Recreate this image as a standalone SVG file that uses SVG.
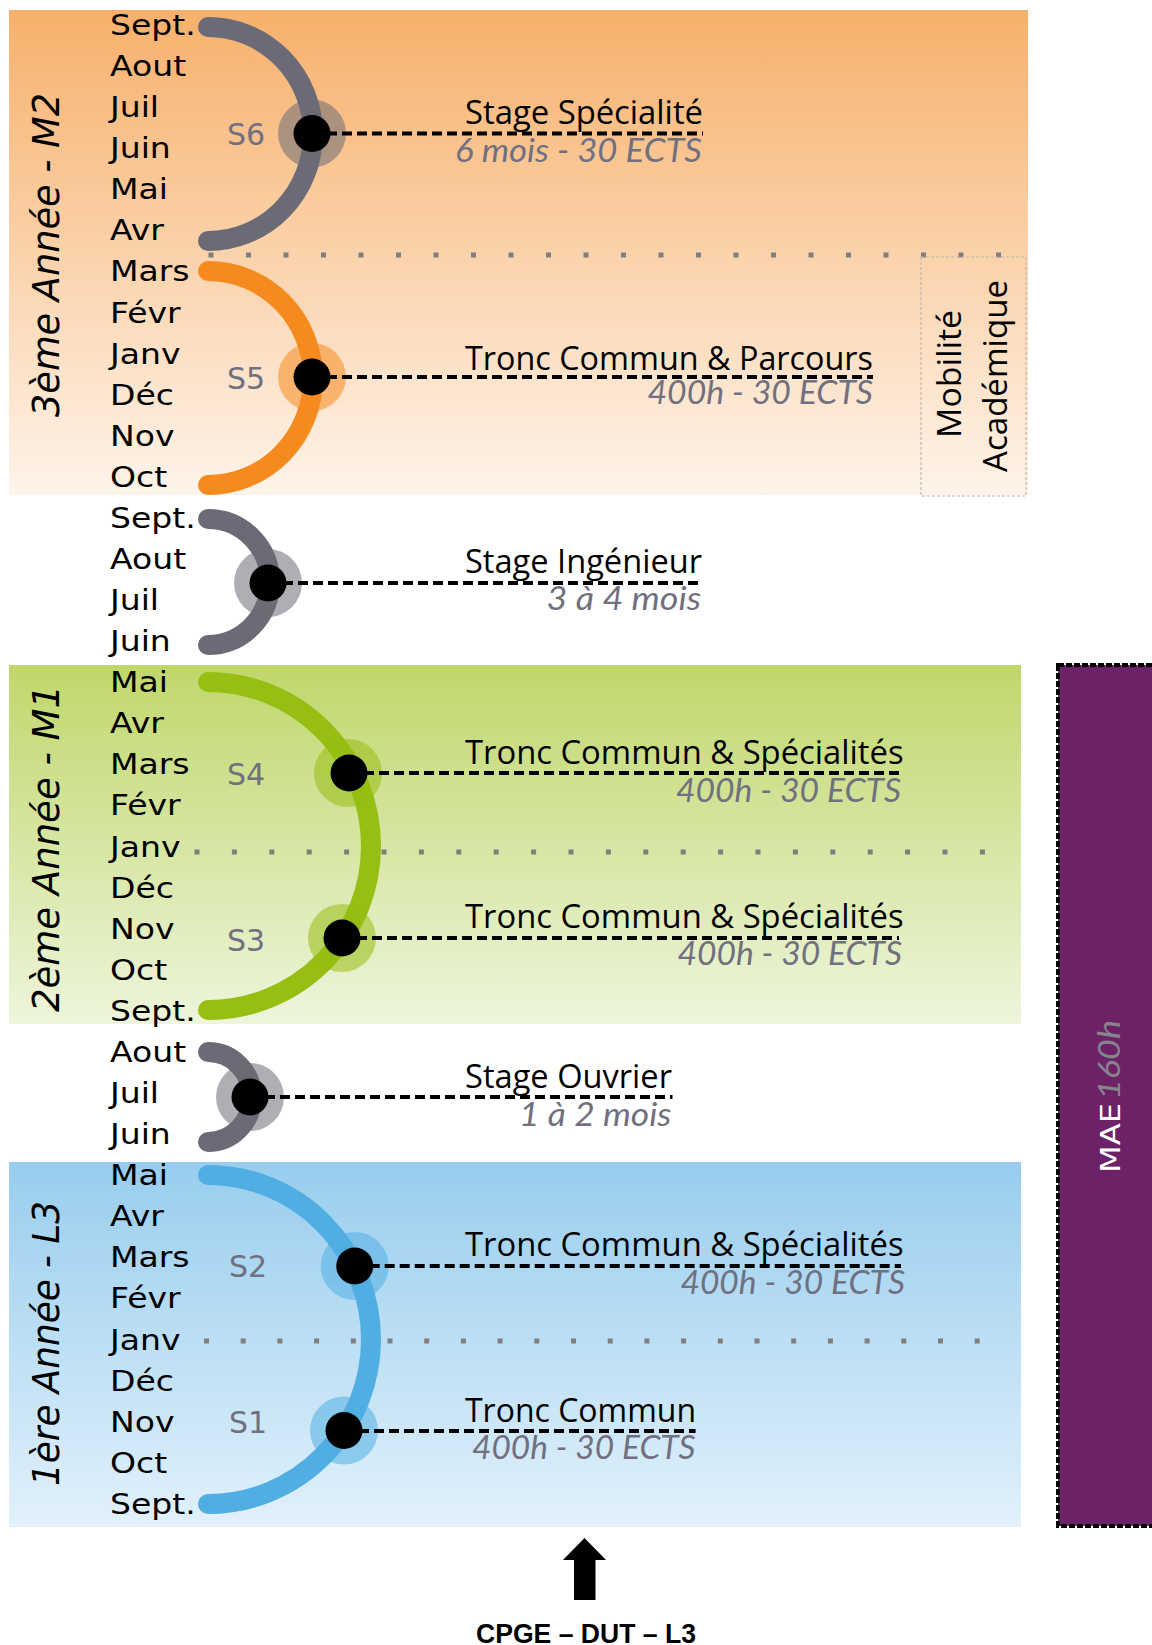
<svg xmlns="http://www.w3.org/2000/svg" width="1152" height="1645" viewBox="0 0 1152 1645">
<defs>
<linearGradient id="gO" x1="0" y1="0" x2="0" y2="1"><stop offset="0" stop-color="#F7B06B"/><stop offset="1" stop-color="#FEF4EA"/></linearGradient>
<linearGradient id="gG" x1="0" y1="0" x2="0" y2="1"><stop offset="0" stop-color="#C0D76B"/><stop offset="1" stop-color="#EEF5DC"/></linearGradient>
<linearGradient id="gB" x1="0" y1="0" x2="0" y2="1"><stop offset="0" stop-color="#98CDEE"/><stop offset="1" stop-color="#E2F1FB"/></linearGradient>
<style>
.m{font-family:"DejaVu Sans",sans-serif;font-size:29px;fill:#000}
.yr{font-family:"DejaVu Sans",sans-serif;font-style:oblique;font-size:37px;fill:#000;text-anchor:middle}
.sl{font-family:"DejaVu Sans",sans-serif;font-size:30px;fill:#6F7080}
.t{font-family:"Open Sans",sans-serif;font-size:32px;fill:#000}
.st{font-family:Lato,sans-serif;font-style:italic;font-size:32px;fill:#707080;text-anchor:end}
.arc{fill:none;stroke-width:20;stroke-linecap:round}
.gray{stroke:#6B6B77}
.halo{opacity:.55}
.dot{fill:#000}
.conn{stroke:#000;stroke-width:4;stroke-dasharray:10 5;fill:none}
.sep{stroke:#7F7F7F;stroke-width:5;fill:none}
.mob{font-family:"Open Sans",sans-serif;font-size:33px;fill:#000;text-anchor:middle}
</style>
</defs>

<g id="bands">
<rect x="9" y="10" width="1019" height="485" fill="url(#gO)"/>
<rect x="9" y="665" width="1012" height="359" fill="url(#gG)"/>
<rect x="9" y="1162" width="1012" height="365" fill="url(#gB)"/>
</g>

<g id="separators">
<line class="sep" x1="208.5" y1="255" x2="1001" y2="255" stroke-dasharray="5 32.5"/>
<line class="sep" x1="194.5" y1="852" x2="985" y2="852" stroke-dasharray="5 32.4"/>
<line class="sep" x1="204" y1="1341" x2="980" y2="1341" stroke-dasharray="5 31.7"/>
</g>

<g id="mobilite">
<rect x="921" y="257" width="105" height="239" fill="none" stroke="#C4B6A8" stroke-width="1.2" stroke-dasharray="3 2"/>
<text class="mob" transform="translate(961,374) rotate(-90)" textLength="128" lengthAdjust="spacingAndGlyphs">Mobilité</text>
<text class="mob" transform="translate(1007,376) rotate(-90)" textLength="192" lengthAdjust="spacingAndGlyphs">Académique</text>
</g>

<g id="mae">
<rect x="1058" y="665" width="110" height="861" fill="#6D2268" stroke="#000" stroke-width="4" stroke-dasharray="6 2"/>
<text transform="translate(1120,1173) rotate(-90)" font-family="DejaVu Sans, sans-serif" font-size="27" fill="#fff" textLength="70" lengthAdjust="spacingAndGlyphs">MAE</text>
<text transform="translate(1120,1100) rotate(-90)" font-family="Lato, sans-serif" font-style="italic" font-size="31" fill="#85858C" textLength="80" lengthAdjust="spacingAndGlyphs">160h</text>
</g>

<g id="years">
<text class="yr" transform="translate(59,255) rotate(-90)" textLength="324" lengthAdjust="spacingAndGlyphs">3ème Année - M2</text>
<text class="yr" transform="translate(59,848.5) rotate(-90)" textLength="327" lengthAdjust="spacingAndGlyphs">2ème Année - M1</text>
<text class="yr" transform="translate(59,1343.5) rotate(-90)" textLength="285" lengthAdjust="spacingAndGlyphs">1ère Année - L3</text>
</g>

<g id="months" transform="translate(110,0) scale(1.14,1)">
<text class="m" x="0" y="35">Sept.</text>
<text class="m" x="0" y="76.1">Aout</text>
<text class="m" x="0" y="117.2">Juil</text>
<text class="m" x="0" y="158.2">Juin</text>
<text class="m" x="0" y="199.3">Mai</text>
<text class="m" x="0" y="240.4">Avr</text>
<text class="m" x="0" y="281.5">Mars</text>
<text class="m" x="0" y="322.6">Févr</text>
<text class="m" x="0" y="363.6">Janv</text>
<text class="m" x="0" y="404.7">Déc</text>
<text class="m" x="0" y="445.8">Nov</text>
<text class="m" x="0" y="486.9">Oct</text>
<text class="m" x="0" y="528">Sept.</text>
<text class="m" x="0" y="569">Aout</text>
<text class="m" x="0" y="610.1">Juil</text>
<text class="m" x="0" y="651.2">Juin</text>
<text class="m" x="0" y="692.3">Mai</text>
<text class="m" x="0" y="733.4">Avr</text>
<text class="m" x="0" y="774.4">Mars</text>
<text class="m" x="0" y="815.5">Févr</text>
<text class="m" x="0" y="856.6">Janv</text>
<text class="m" x="0" y="897.7">Déc</text>
<text class="m" x="0" y="938.8">Nov</text>
<text class="m" x="0" y="979.8">Oct</text>
<text class="m" x="0" y="1020.9">Sept.</text>
<text class="m" x="0" y="1062">Aout</text>
<text class="m" x="0" y="1103.1">Juil</text>
<text class="m" x="0" y="1144.2">Juin</text>
<text class="m" x="0" y="1185.2">Mai</text>
<text class="m" x="0" y="1226.3">Avr</text>
<text class="m" x="0" y="1267.4">Mars</text>
<text class="m" x="0" y="1308.5">Févr</text>
<text class="m" x="0" y="1349.6">Janv</text>
<text class="m" x="0" y="1390.6">Déc</text>
<text class="m" x="0" y="1431.7">Nov</text>
<text class="m" x="0" y="1472.8">Oct</text>
<text class="m" x="0" y="1513.9">Sept.</text>
</g>

<g id="arcs">
<path class="arc gray" d="M208 27 A105 107 0 0 1 208 241"/>
<path class="arc" stroke="#F58A1F" d="M208 271 A105 107 0 0 1 208 485"/>
<path class="arc gray" d="M208 519 A62 63 0 0 1 208 645"/>
<path class="arc" stroke="#96BE13" d="M208 682 A163 164 0 0 1 208 1010"/>
<path class="arc gray" d="M208 1052 A44 45 0 0 1 208 1142"/>
<path class="arc" stroke="#50AEE3" d="M208 1175 A163 164.5 0 0 1 208 1504"/>
</g>

<g id="halos">
<circle class="halo" cx="312" cy="133.5" r="34" fill="#6B6B77"/>
<circle class="halo" cx="312" cy="377" r="34" fill="#F58A1F"/>
<circle class="halo" cx="268" cy="583" r="34" fill="#6B6B77"/>
<circle class="halo" cx="348" cy="773" r="34" fill="#96BE13"/>
<circle class="halo" cx="342" cy="938" r="34" fill="#96BE13"/>
<circle class="halo" cx="250" cy="1097" r="34" fill="#6B6B77"/>
<circle class="halo" cx="354.7" cy="1266" r="34" fill="#50AEE3"/>
<circle class="halo" cx="344" cy="1430.5" r="34" fill="#50AEE3"/>
</g>

<g id="connectors">
<line class="conn" x1="312" y1="133.5" x2="703" y2="133.5"/>
<line class="conn" x1="312" y1="377" x2="873" y2="377"/>
<line class="conn" x1="268" y1="583" x2="702" y2="583"/>
<line class="conn" x1="349" y1="773" x2="903.5" y2="773"/>
<line class="conn" x1="342" y1="938" x2="899" y2="938"/>
<line class="conn" x1="250" y1="1097" x2="672.5" y2="1097"/>
<line class="conn" x1="354.7" y1="1266" x2="901" y2="1266"/>
<line class="conn" x1="344" y1="1431" x2="695.6" y2="1431"/>
</g>

<g id="s6">
<circle class="dot" cx="312" cy="133.5" r="18.5"/>
<text class="sl" x="227" y="145">S6</text>
<text class="t" x="465" y="123.5" textLength="238" lengthAdjust="spacingAndGlyphs">Stage Spécialité</text>
<text class="st" x="702" y="162" textLength="247" lengthAdjust="spacingAndGlyphs">6 mois - 30 ECTS</text>
</g>
<g id="s5">
<circle class="dot" cx="312" cy="377" r="18.5"/>
<text class="sl" x="227" y="389">S5</text>
<text class="t" x="465" y="370" textLength="408" lengthAdjust="spacingAndGlyphs">Tronc Commun &amp; Parcours</text>
<text class="st" x="873" y="404" textLength="225.5" lengthAdjust="spacingAndGlyphs">400h - 30 ECTS</text>
</g>
<g id="stage-ingenieur">
<circle class="dot" cx="268" cy="583" r="18.5"/>
<text class="t" x="465" y="573" textLength="237" lengthAdjust="spacingAndGlyphs">Stage Ingénieur</text>
<text class="st" x="701" y="610" textLength="154.5" lengthAdjust="spacingAndGlyphs">3 à 4 mois</text>
</g>
<g id="s4">
<circle class="dot" cx="349" cy="773" r="18.5"/>
<text class="sl" x="227" y="785">S4</text>
<text class="t" x="465" y="764" textLength="438.5" lengthAdjust="spacingAndGlyphs">Tronc Commun &amp; Spécialités</text>
<text class="st" x="901" y="802" textLength="225" lengthAdjust="spacingAndGlyphs">400h - 30 ECTS</text>
</g>
<g id="s3">
<circle class="dot" cx="342" cy="938" r="18.5"/>
<text class="sl" x="227" y="950.5">S3</text>
<text class="t" x="465" y="928" textLength="438.5" lengthAdjust="spacingAndGlyphs">Tronc Commun &amp; Spécialités</text>
<text class="st" x="902" y="965" textLength="224.5" lengthAdjust="spacingAndGlyphs">400h - 30 ECTS</text>
</g>
<g id="stage-ouvrier">
<circle class="dot" cx="250" cy="1097" r="18.5"/>
<text class="t" x="465" y="1088" textLength="207" lengthAdjust="spacingAndGlyphs">Stage Ouvrier</text>
<text class="st" x="671.5" y="1126" textLength="152.5" lengthAdjust="spacingAndGlyphs">1 à 2 mois</text>
</g>
<g id="s2">
<circle class="dot" cx="354.7" cy="1266" r="18.5"/>
<text class="sl" x="229" y="1277" font-size="28">S2</text>
<text class="t" x="465" y="1256" textLength="438.5" lengthAdjust="spacingAndGlyphs">Tronc Commun &amp; Spécialités</text>
<text class="st" x="905" y="1294" textLength="224.6" lengthAdjust="spacingAndGlyphs">400h - 30 ECTS</text>
</g>
<g id="s1">
<circle class="dot" cx="344" cy="1430.5" r="18.5"/>
<text class="sl" x="229" y="1432.5" font-size="28">S1</text>
<text class="t" x="465" y="1422" textLength="231" lengthAdjust="spacingAndGlyphs">Tronc Commun</text>
<text class="st" x="695.6" y="1459" textLength="223.6" lengthAdjust="spacingAndGlyphs">400h - 30 ECTS</text>
</g>

<g id="entry">
<polygon points="584.5,1538 606,1560 595.5,1560 595.5,1600 574,1600 574,1560 563,1560" fill="#000"/>
<text x="586" y="1643" font-family="Liberation Sans, Arial, sans-serif" font-weight="bold" font-size="27" text-anchor="middle" textLength="220" lengthAdjust="spacingAndGlyphs">CPGE – DUT – L3</text>
</g>
</svg>
